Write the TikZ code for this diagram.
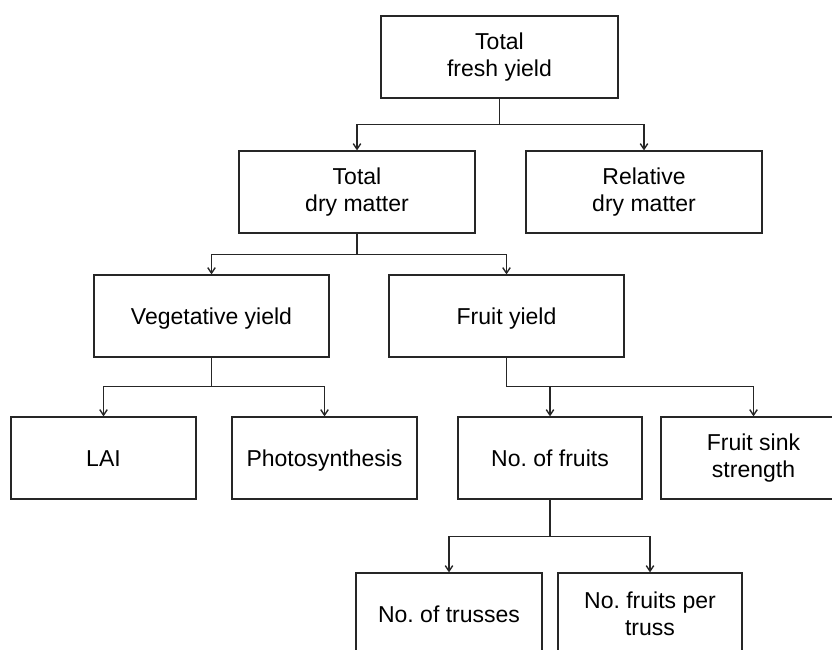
\documentclass[tikz,border=0pt]{standalone}
\usepackage{fontspec}
\setmainfont{Liberation Sans}
\usetikzlibrary{arrows.meta}
\begin{document}
\frenchspacing
\begin{tikzpicture}[x=1pt,y=-1pt,
  box/.style={draw=black!85, line width=1.3pt, minimum height=82pt, align=center, inner sep=0pt,
    font=\fontsize{23}{26.5}\selectfont},
  one/.style={text height=17pt, text depth=0pt},
  arr/.style={draw=black!85, line width=1.4pt, -{Straight Barb[length=5.5pt,width=7.5pt]}}]
\useasboundingbox (0,0) rectangle (832,650);
\clip (0,0) rectangle (832,650);
\node[box, minimum width=237pt] (tfy) at (499.5,57) {Total\\fresh yield};
\node[box, minimum width=236pt] (tdm) at (357,192) {Total\\dry matter};
\node[box, minimum width=236pt] (rdm) at (644,192) {Relative\\dry matter};
\node[box, one, minimum width=235pt] (veg) at (211.5,316) {Vegetative yield};
\node[box, one, minimum width=235pt] (fy) at (506.5,316) {Fruit yield};
\node[box, one, minimum width=185pt] (lai) at (103.5,458) {LAI};
\node[box, one, minimum width=185pt] (ps) at (324.5,458) {Photosynthesis};
\node[box, one, minimum width=184pt] (nof) at (550,458) {No. of fruits};
\node[box, minimum width=185pt] (fss) at (753.5,458) {Fruit sink\\strength};
\node[box, one, minimum width=186pt] (not) at (449,614) {No. of trusses};
\node[box, minimum width=184pt] (fpt) at (650,614) {No. fruits per\\truss};
\draw[arr] (tfy.south) -- ++(0,26) -| (tdm.north);
\draw[arr] (tfy.south) -- ++(0,26) -| (rdm.north);
\draw[arr] (tdm.south) -- ++(0,21) -| (veg.north);
\draw[arr] (tdm.south) -- ++(0,21) -| (fy.north);
\draw[arr] (veg.south) -- ++(0,29) -| (lai.north);
\draw[arr] (veg.south) -- ++(0,29) -| (ps.north);
\draw[arr] (fy.south) -- ++(0,29) -| (nof.north);
\draw[arr] (fy.south) -- ++(0,29) -| (fss.north);
\draw[arr] (nof.south) -- ++(0,37) -| (not.north);
\draw[arr] (nof.south) -- ++(0,37) -| (fpt.north);
\end{tikzpicture}
\end{document}
